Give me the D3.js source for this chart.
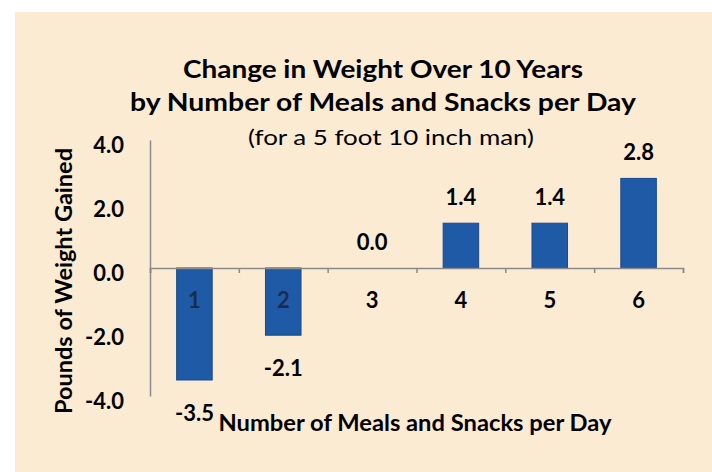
<!DOCTYPE html>
<html>
<head>
<meta charset="utf-8">
<script src="https://cdn.jsdelivr.net/npm/d3@7"></script>
<style>
  body { margin: 0; background: #fff; }
  text { font-family: Lato, "Open Sans", sans-serif; }
</style>
</head>
<body>
<div id="chart"></div>
<script>
// data
var categories = ["1", "2", "3", "4", "5", "6"];
var weightGain = [-3.5, -2.1, 0.0, 1.4, 1.4, 2.8];
var yTicks = [-4, -2, 0, 2, 4];
var titleLines = ["Change in Weight Over 10 Years", "by Number of Meals and Snacks per Day"];
var subTitle = "(for a 5 foot 10 inch man)";
var xTitle = "Number of Meals and Snacks per Day";
var yTitle = "Pounds of Weight Gained";

var width = 712, height = 472;

var svg = d3.select("#chart").append("svg")
    .attr("width", width)
    .attr("height", height);

svg.append("rect")
    .attr("width", width).attr("height", height)
    .attr("fill", "#ffffff");

// beige panel
svg.append("rect")
    .attr("x", 15).attr("y", 12)
    .attr("width", width - 15).attr("height", height - 12)
    .attr("fill", "#fcebd3");

var x = d3.scaleBand()
    .domain(categories)
    .range([150, 683])
    .paddingInner(0.6)
    .paddingOuter(0.3);

var y = d3.scaleLinear()
    .domain([-4, 4])
    .range([396, 140]);

var data = categories.map(function(c, i) { return {cat: c, val: weightGain[i]}; });

// titles
svg.append("text")
    .attr("x", 383).attr("y", 78)
    .attr("text-anchor", "middle")
    .style("font-size", "25px").style("font-weight", "bold")
    .attr("textLength", 400).attr("lengthAdjust", "spacingAndGlyphs")
    .text(titleLines[0]);
svg.append("text")
    .attr("x", 383).attr("y", 111)
    .attr("text-anchor", "middle")
    .style("font-size", "25px").style("font-weight", "bold")
    .attr("textLength", 506).attr("lengthAdjust", "spacingAndGlyphs")
    .text(titleLines[1]);
svg.append("text")
    .attr("x", 391).attr("y", 145)
    .attr("text-anchor", "middle")
    .style("font-size", "21px")
    .attr("textLength", 286).attr("lengthAdjust", "spacingAndGlyphs")
    .text(subTitle);

// y axis
var yAxis = svg.append("g")
    .attr("transform", "translate(150,0)")
    .call(d3.axisLeft(y)
        .tickValues(yTicks)
        .tickSize(0)
        .tickPadding(26)
        .tickFormat(function(d) { return d.toFixed(1); }));
yAxis.select(".domain").attr("stroke", "#8a8a8a").attr("stroke-width", 1.5);
yAxis.selectAll("text")
    .attr("dy", "0.55em")
    .style("font-size", "22px").style("font-weight", "bold")
    .attr("fill", "#000");

// bars
svg.selectAll(".bar")
    .data(data)
    .enter().append("rect")
    .attr("class", "bar")
    .attr("x", function(d) { return x(d.cat); })
    .attr("width", x.bandwidth())
    .attr("y", function(d) { return y(Math.max(0, d.val)); })
    .attr("height", function(d) { return Math.abs(y(d.val) - y(0)); })
    .attr("fill", "#1f5aa6")
    .attr("stroke", "#184a8e")
    .attr("stroke-width", 1);

// zero line with boundary ticks
var edges = d3.scaleLinear().domain([0, categories.length]).range(x.range());
var xAxis = svg.append("g")
    .attr("transform", "translate(0," + y(0) + ")")
    .call(d3.axisBottom(edges)
        .ticks(categories.length)
        .tickSize(5)
        .tickSizeOuter(5)
        .tickFormat(""));
xAxis.select(".domain").attr("stroke", "#8a8a8a").attr("stroke-width", 1.5);
xAxis.selectAll(".tick line").attr("stroke", "#8a8a8a").attr("stroke-width", 1.5);

// category labels
var catAxis = svg.append("g")
    .attr("transform", "translate(0," + y(0) + ")")
    .call(d3.axisBottom(x).tickSize(0).tickPadding(24));
catAxis.select(".domain").remove();
catAxis.selectAll("text")
    .style("font-size", "22px").style("font-weight", "bold")
    .attr("fill", function(d, i) { return weightGain[i] < -1.5 ? "#1b2d4d" : "#000"; });

// value labels
svg.selectAll(".val")
    .data(data)
    .enter().append("text")
    .attr("class", "val")
    .attr("x", function(d) { return x(d.cat) + x.bandwidth() / 2; })
    .attr("y", function(d) { return d.val < 0 ? y(d.val) + 33 : y(d.val) - 26; })
    .attr("dy", "0.35em")
    .attr("text-anchor", "middle")
    .style("font-size", "22px").style("font-weight", "bold")
    .text(function(d) { return d.val.toFixed(1); });

// axis titles
svg.append("text")
    .attr("x", 415).attr("y", 431)
    .attr("text-anchor", "middle")
    .style("font-size", "22px").style("font-weight", "bold")
    .attr("textLength", 393).attr("lengthAdjust", "spacingAndGlyphs")
    .text(xTitle);

svg.append("text")
    .attr("transform", "translate(72,281) rotate(-90)")
    .attr("text-anchor", "middle")
    .style("font-size", "22px").style("font-weight", "bold")
    .attr("textLength", 266).attr("lengthAdjust", "spacingAndGlyphs")
    .text(yTitle);
</script>
</body>
</html>
